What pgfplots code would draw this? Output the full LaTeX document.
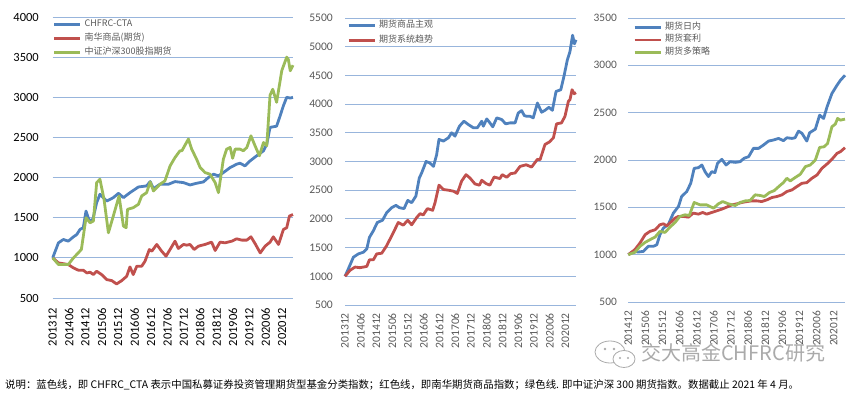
\documentclass[border=0pt]{standalone}
\usepackage{pgfplots}
\pgfplotsset{compat=1.18}
\usepackage{fontspec}
\setmainfont{Carlito}
\newfontfamily\cjk{Noto Sans CJK SC}
\definecolor{cBlue}{RGB}{79,129,189}
\definecolor{cRed}{RGB}{192,80,77}
\definecolor{cGreen}{RGB}{155,187,89}
\definecolor{gridc}{RGB}{152,181,220}
\definecolor{labc}{RGB}{89,89,89}
\definecolor{wm}{RGB}{170,170,170}
\pgfplotsset{
  panel/.style={
    scale only axis, axis line style={draw=none}, major tick length=0pt,
    ymajorgrids, grid style={color=gridc, line width=0.8pt},
    /pgf/number format/1000 sep={}, /pgf/number format/assume math mode=true,
    every tick label/.append style={inner sep=0pt},
    xticklabel style={rotate=90, anchor=east},
    clip=false, legend cell align=left,
    legend style={draw=none, fill=none, inner sep=0pt, column sep=3pt,
      font=\cjk\fontsize{9}{9}\selectfont, text=labc,
      nodes={inner sep=0pt, text height=6pt, text depth=2pt}},
    legend image code/.code={\draw[##1] (0pt,0pt) -- (26pt,0pt);},
    every axis plot/.append style={line width=2.8pt, line join=round, mark=none},
  }
}
\begin{document}
\begin{tikzpicture}
\useasboundingbox (0pt,0pt) rectangle (852pt,396pt);
% Panel 1
\begin{axis}[panel, at={(52.7pt,98pt)}, anchor=south west, width=240.3pt, height=281pt,
  xmin=0, xmax=88, ymin=500, ymax=4000, ytick={500,1000,...,4000},
  xtick={0,6,...,84},
  xticklabels={201312,201406,201412,201506,201512,201606,201612,201706,201712,201806,201812,201906,201912,202006,202012},
  tick label style={font=\fontsize{12.5}{12.5}\selectfont, text=black},
  yticklabel shift=13.7pt, xticklabel shift=10pt,
  legend style={at={(0,1)}, anchor=north west, yshift=-3pt, row sep=6pt}]
\addplot[cBlue] coordinates {(0,1000)(2.1,1187)(3.9,1229)(5.7,1208)(7.6,1262)(8.8,1290)(10,1354)(11.2,1375)(12.2,1583)(13.4,1458)(14.7,1479)(16.1,1687)(17.3,1792)(19.8,1708)(22.2,1750)(24.1,1804)(25.9,1750)(28.3,1812)(31.4,1883)(34.4,1896)(35.7,1950)(36.9,1862)(39.3,1917)(42.4,1917)(44.8,1950)(47.9,1937)(50.3,1908)(52.7,1929)(55.2,1946)(57,2000)(58.9,2042)(60.7,2021)(62.5,2062)(65,2125)(67.4,2167)(68.6,2179)(70.4,2146)(72.3,2208)(74.7,2271)(77.2,2333)(78.4,2416)(79.6,2625)(82,2640)(83.3,2770)(84.5,2896)(85.7,3000)(87,2990)(88,3000)};
\addlegendentry{CHFRC-CTA}
\addplot[cRed] coordinates {(0,1000)(2.1,937)(5.7,917)(7.6,875)(9.4,846)(11.2,846)(12.5,812)(13.7,821)(14.9,792)(16.1,833)(17.9,792)(19.8,729)(21.6,717)(23.4,675)(25.3,717)(27.1,771)(28.3,887)(29.5,792)(30.8,896)(32.6,896)(33.8,958)(35.4,1104)(36.3,1083)(38.1,1167)(39.9,1083)(41.5,1021)(43.2,1117)(44.8,1208)(46,1117)(47.9,1167)(49.1,1158)(50.3,1167)(51.8,1104)(53.4,1146)(55.8,1167)(58.2,1196)(59.5,1092)(61.3,1196)(63.1,1187)(65.6,1208)(67.4,1237)(69.2,1221)(71.1,1221)(72.6,1262)(74.1,1179)(76,1062)(77.8,1146)(79.6,1196)(80.8,1262)(82.7,1167)(84.5,1354)(85.7,1375)(86.7,1521)(88,1540)};
\addlegendentry{南华商品(期货)}
\addplot[cGreen] coordinates {(0,1000)(2.1,917)(3.9,917)(5.7,917)(7.6,1000)(8.8,1042)(10.5,1104)(12.2,1500)(13.7,1437)(14.9,1458)(16.1,1937)(17.3,1979)(18.8,1729)(20.4,1312)(22.2,1521)(24.3,1771)(25.9,1396)(26.9,1375)(27.4,1604)(29.5,1625)(31.4,1667)(32.6,1771)(34.4,1812)(35.7,1946)(36.9,1833)(39.3,1917)(41.1,1958)(43,2146)(44.8,2250)(46.6,2333)(47.3,2333)(49.7,2480)(50.9,2354)(52.7,2229)(54,2125)(55.8,2062)(57.6,2042)(59.5,1937)(60.7,1812)(62.5,2229)(63.7,2354)(65,2375)(65.9,2240)(66.8,2354)(68.6,2354)(69.8,2333)(71.1,2375)(72.6,2520)(74.1,2396)(75.7,2271)(77.2,2437)(78.4,2396)(79.6,3025)(80.6,3100)(82,2937)(83.9,3333)(85.7,3500)(86.3,3470)(87,3330)(88,3400)};
\addlegendentry{中证沪深300股指期货}
\end{axis}
% Panel 2
\begin{axis}[panel, at={(345pt,91pt)}, anchor=south west, width=231pt, height=287pt,
  xmin=0, xmax=88, ymin=500, ymax=5500, ytick={500,1000,...,5500},
  xtick={0,6,...,84},
  xticklabels={201312,201406,201412,201506,201512,201606,201612,201706,201712,201806,201812,201906,201912,202006,202012},
  tick label style={font=\fontsize{11.6}{11.6}\selectfont, text=labc},
  yticklabel shift=12pt, xticklabel shift=8pt,
  legend style={at={(0,1)}, anchor=north west, xshift=2pt, yshift=-3.7pt, row sep=7pt}]
\addplot[cBlue] coordinates {(0,1000)(1.3,1132)(3.2,1333)(5.1,1391)(7,1420)(8.3,1477)(9.3,1678)(10.8,1793)(12.3,1937)(14.3,1977)(15.9,2110)(17.8,2196)(19.4,2236)(20.7,2196)(22.5,2179)(23.9,2322)(25.4,2282)(27,2397)(28.3,2713)(29.2,2800)(30.9,3001)(32.4,2972)(33.7,2915)(34.9,3116)(35.8,3385)(37.5,3356)(39.4,3413)(40.6,3500)(41.9,3442)(43.6,3615)(45.3,3702)(47,3644)(48.9,3587)(50.4,3587)(52.1,3702)(52.7,3615)(54,3742)(55.2,3673)(56.3,3604)(57.8,3760)(59.7,3731)(61.2,3656)(62.9,3673)(64.8,3673)(66,3846)(67.3,3886)(68.3,3800)(69.2,3788)(70.5,3788)(71.7,3760)(73.3,4019)(74.9,3858)(76.2,3892)(77.7,3944)(79,3892)(80.4,4221)(82.2,4250)(83.4,4481)(84.7,4769)(85.7,4914)(86.7,5200)(87.4,5050)(88,5120)};
\addlegendentry{期货商品主观}
\addplot[cRed] coordinates {(0,1000)(1.9,1103)(3.8,1161)(5.7,1150)(8.3,1172)(9.3,1287)(10.8,1287)(12.1,1391)(14,1402)(15.9,1535)(17.8,1707)(20.3,1937)(22.2,1891)(23.9,1977)(25.4,1897)(27.3,2023)(28.6,2092)(29.8,2069)(31.4,2179)(33.4,2150)(34.3,2282)(35.8,2587)(37.5,2512)(39.4,2500)(41.3,2483)(42.8,2443)(44.4,2656)(46.1,2771)(47.6,2713)(49.5,2610)(51.2,2587)(52.1,2673)(53.7,2616)(55.2,2587)(56.8,2730)(59,2702)(59.9,2771)(61.6,2725)(63.1,2788)(64.8,2800)(66.7,2915)(69,2943)(71.1,2903)(73.3,3038)(74.3,3030)(76.2,3298)(77.8,3338)(79.4,3413)(80.6,3656)(82.5,3673)(83.8,3788)(85.1,4048)(85.7,4077)(86.5,4250)(87.3,4180)(88,4200)};
\addlegendentry{期货系统趋势}
\end{axis}
% Panel 3
\begin{axis}[panel, at={(628.3pt,94pt)}, anchor=south west, width=216.7pt, height=284pt,
  xmin=0, xmax=76, ymin=500, ymax=3500, ytick={500,1000,...,3500},
  xtick={0,6,...,72},
  xticklabels={201412,201506,201512,201606,201612,201706,201712,201806,201812,201906,201912,202006,202012},
  tick label style={font=\fontsize{11.4}{11.4}\selectfont, text=labc},
  yticklabel shift=11.3pt, xticklabel shift=9pt,
  legend style={at={(0,1)}, anchor=north west, xshift=4.7pt, yshift=-5.3pt, row sep=4.5pt}]
\addplot[cBlue] coordinates {(0,1000)(1.8,1035)(3.5,1028)(5.3,1035)(7,1088)(8.8,1088)(10,1105)(11.1,1211)(12.3,1281)(14,1316)(15.8,1439)(17.6,1509)(18.7,1614)(20.5,1667)(21.9,1754)(23.1,1912)(24.6,1919)(25.8,1947)(26.9,1877)(28.1,1825)(29.3,1877)(30.4,1867)(31.3,1965)(32.8,2007)(34.3,1947)(35.7,1982)(37.5,1975)(39.2,1982)(40.6,2018)(42.2,2035)(43.9,2123)(45.7,2123)(47.4,2158)(49.2,2200)(50.9,2211)(52.7,2228)(54.4,2204)(55.6,2235)(57.4,2228)(58.5,2235)(59.7,2305)(60.9,2282)(62.6,2200)(63.6,2288)(65.6,2326)(67.1,2474)(68.5,2439)(69.7,2561)(71.4,2702)(73.2,2790)(74.4,2842)(76,2895)};
\addlegendentry{期货日内}
\addplot[cRed] coordinates {(0,1000)(2.3,1053)(4.1,1123)(5.9,1211)(7.6,1246)(9.4,1263)(11.1,1316)(12.3,1326)(13.5,1305)(15.2,1351)(16.4,1386)(17.6,1404)(19.3,1404)(21.1,1396)(22.8,1439)(24.6,1428)(26.1,1446)(27.5,1428)(29.3,1446)(31,1463)(32.8,1481)(34.5,1502)(36.3,1526)(38.1,1537)(39.8,1551)(41.6,1561)(43.3,1568)(45.1,1568)(46.8,1561)(48.6,1579)(50.4,1604)(52.1,1614)(53.9,1632)(55.6,1667)(57.4,1684)(59.1,1719)(60.9,1754)(62.6,1761)(64.4,1807)(66.2,1842)(67.9,1912)(69.7,1958)(71.4,2007)(73.2,2070)(74.4,2088)(76,2130)};
\addlegendentry{期货套利}
\addplot[cGreen] coordinates {(0,1000)(2.3,1025)(4.1,1088)(5.9,1130)(7.6,1158)(9.4,1186)(11.1,1246)(12.9,1235)(14.6,1291)(16.4,1340)(18.1,1404)(19.9,1421)(21.4,1414)(23.1,1551)(25.2,1526)(27.5,1526)(29.9,1491)(31.6,1537)(33.1,1561)(35.1,1537)(37.5,1519)(39.2,1551)(41,1568)(42.7,1572)(44.5,1632)(46.3,1625)(47.7,1614)(49.5,1656)(51.2,1677)(53,1726)(54.4,1761)(55.6,1807)(56.8,1779)(58.5,1814)(60.3,1849)(62.1,1930)(63.8,1947)(65.6,2000)(67.1,2133)(68.7,2140)(69.9,2175)(71.4,2351)(72.6,2379)(73.4,2439)(74.4,2421)(76,2432)};
\addlegendentry{期货多策略}
\end{axis}
% watermark
\begin{scope}[draw=wm, line width=0.8pt]
\draw (610pt,44pt) ellipse (15pt and 11pt);
\draw[fill=white] (624pt,37pt) ellipse (11pt and 8.5pt);
\fill[wm] (605pt,47pt) circle (1.4pt) (614pt,47pt) circle (1.4pt) (620pt,38pt) circle (1.1pt) (628pt,38pt) circle (1.1pt);
\end{scope}
\node[anchor=west, inner sep=0pt, text=wm] at (641pt,43pt) {\cjk\fontsize{20}{20}\selectfont 交大高金CHFRC研究};
% caption
\node[anchor=west, inner sep=0pt] at (5pt,11pt) {\cjk\fontsize{10.4}{10.4}\selectfont 说明：蓝色线，即 CHFRC\_CTA 表示中国私募证券投资管理期货型基金分类指数；红色线，即南华期货商品指数；绿色线. 即中证沪深 300 期货指数。数据截止 2021 年 4 月。};
\end{tikzpicture}
\end{document}
